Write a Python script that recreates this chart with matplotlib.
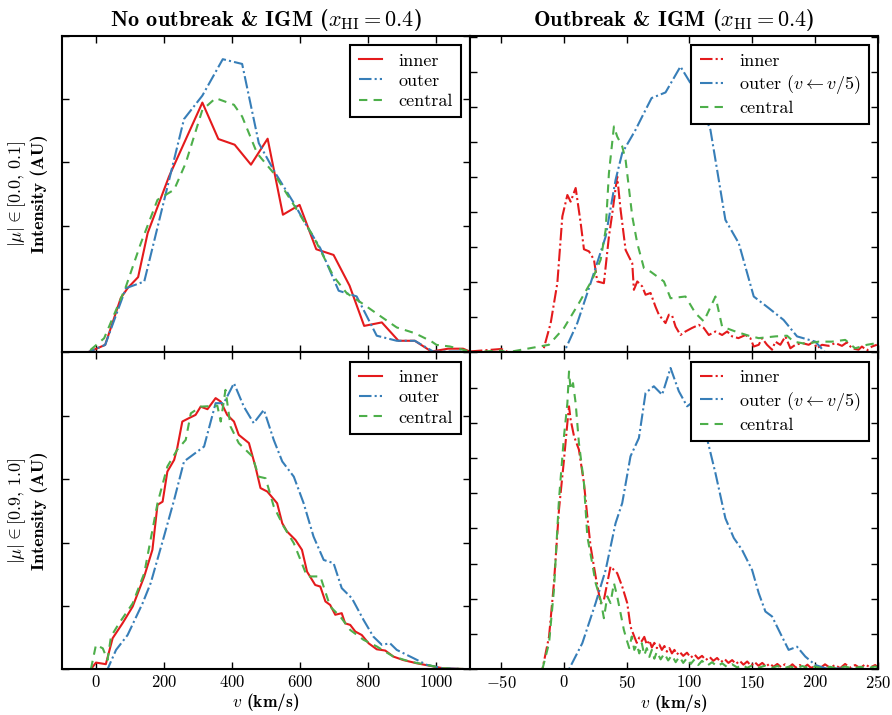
import matplotlib
matplotlib.use('Agg')
import matplotlib.pyplot as plt
from matplotlib.ticker import MultipleLocator

plt.rcParams['font.family'] = 'serif'
plt.rcParams['font.serif'] = ['cmr10']
plt.rcParams['mathtext.fontset'] = 'cm'
plt.rcParams['axes.formatter.use_mathtext'] = True
plt.rcParams['axes.unicode_minus'] = True

RED = '#e41a1c'
BLUE = '#377eb8'
GREEN = '#4daf4a'

# ---- top left: no outbreak, |mu| in [0.0, 0.1] ----
tl_inner_v = [-100, -25, 27, 73, 93, 124, 152, 215, 313, 360, 408, 456, 505, 550, 599, 648, 699,
              746, 789, 841, 890, 938, 987, 1036, 1080, 1100]
tl_inner_i = [0, 0, 0.024, 0.172, 0.203, 0.238, 0.377, 0.556, 0.789, 0.674, 0.656, 0.593, 0.675,
              0.435, 0.466, 0.326, 0.308, 0.211, 0.084, 0.095, 0.037, 0.037, 0.003, 0.012, 0.012, 0.003]
tl_outer_v = [-100, -25, 27, 88, 142, 259, 313, 373, 430, 479, 528, 582, 621, 660, 714, 767, 826,
              885, 938, 992, 1100]
tl_outer_i = [0, 0, 0.024, 0.203, 0.224, 0.737, 0.811, 0.926, 0.911, 0.661, 0.566, 0.472, 0.398,
              0.329, 0.195, 0.177, 0.053, 0.037, 0.037, 0.003, 0.003]
tl_central_v = [-100, -25, 24, 88, 132, 181, 230, 264, 313, 352, 406, 430, 474, 523, 582, 640, 699,
                738, 782, 831, 885, 938, 987, 1002, 1041, 1100]
tl_central_i = [0, 0, 0.045, 0.208, 0.345, 0.482, 0.514, 0.598, 0.766, 0.803, 0.782, 0.745, 0.629,
                0.566, 0.466, 0.366, 0.24, 0.187, 0.156, 0.119, 0.079, 0.061, 0.035, 0.024, 0.019, 0.003]

# ---- bottom left: no outbreak, |mu| in [0.9, 1.0] ----
bl_inner_v = [-100, -15, 0, 29, 49, 78, 108, 142, 166, 181, 196, 210, 230, 239, 254, 274, 293, 308,
              328, 352, 367, 386, 406, 420, 450, 469, 484, 504, 533, 548, 562, 587, 606, 621, 645,
              660, 675, 689, 704, 723, 733, 748, 763, 782, 802, 826, 851, 875, 904, 943, 982, 1021, 1100]
bl_inner_i = [0, 0, 0.021, 0.016, 0.098, 0.145, 0.198, 0.293, 0.377, 0.519, 0.529, 0.624, 0.661,
              0.698, 0.782, 0.793, 0.803, 0.829, 0.821, 0.856, 0.845, 0.803, 0.782, 0.74, 0.714, 0.64,
              0.572, 0.561, 0.524, 0.461, 0.435, 0.408, 0.377, 0.308, 0.266, 0.261, 0.214, 0.203,
              0.172, 0.177, 0.145, 0.14, 0.119, 0.108, 0.082, 0.063, 0.059, 0.04, 0.029, 0.019,
              0.011, 0.003, 0]
bl_outer_v = [-100, -15, 34, 59, 93, 137, 161, 200, 230, 259, 318, 352, 376, 406, 435, 464, 494, 523,
              548, 582, 611, 640, 670, 699, 723, 753, 787, 816, 841, 865, 885, 934, 973, 1021, 1100]
bl_outer_i = [0, 0, 0, 0.061, 0.108, 0.208, 0.272, 0.419, 0.535, 0.656, 0.703, 0.84, 0.84, 0.903,
              0.829, 0.777, 0.819, 0.724, 0.656, 0.608, 0.524, 0.419, 0.345, 0.335, 0.256, 0.224,
              0.156, 0.103, 0.077, 0.082, 0.061, 0.035, 0.014, 0.003, 0]
bl_central_v = [-100, -15, 0, 20, 34, 44, 68, 108, 142, 181, 210, 239, 264, 279, 308, 357, 367, 381,
                396, 420, 460, 479, 499, 523, 552, 582, 621, 660, 689, 719, 748, 787, 826, 875, 924,
                973, 1021, 1100]
bl_central_i = [0, 0, 0.077, 0.066, 0.029, 0.103, 0.145, 0.208, 0.303, 0.524, 0.64, 0.693, 0.724,
                0.808, 0.829, 0.832, 0.782, 0.882, 0.766, 0.714, 0.672, 0.608, 0.603, 0.514, 0.451,
                0.398, 0.293, 0.293, 0.198, 0.166, 0.124, 0.093, 0.072, 0.04, 0.024, 0.014, 0.003, 0]

# ---- top right: outbreak, |mu| in [0.0, 0.1] ----
tr_inner_v = [-75, -50, -44, -17, -10.6, -5.3, -1.3, 2.7, 5.3, 9.3, 13.3, 15.9, 19.9, 23.9, 26.5,
              31.8, 35.8, 38.5, 42.4, 45.1, 49.1, 51.7, 54.4, 55.7, 58.4, 62.3, 65, 69, 72.9, 75.6,
              80.9, 83.6, 86.2, 88.9, 92.8, 96.8, 102, 107.4, 111.4, 115.4, 120.7, 126, 130, 134,
              139, 144.6, 148.5, 151.2, 155.2, 157.8, 161.8, 165.8, 168.4, 172.4, 176.4, 180.4,
              184.4, 189.7, 195, 199, 201.6, 205.6, 210.9, 216.2, 221.5, 225.5, 229.4, 234.7, 237.4,
              241.4, 245.4, 249.3]
tr_inner_i = [0.03, 0.1, 0, 0, 0.84, 1.98, 3.89, 4.5, 4.31, 4.7, 3.7, 2.95, 2.89, 2.65, 2.03, 1.98,
              3.31, 3.98, 5.03, 4.08, 2.93, 2.74, 2.55, 1.79, 2.03, 1.89, 1.65, 1.7, 1.31, 1.08, 0.84,
              1.08, 1.05, 0.74, 0.5, 0.6, 0.7, 0.79, 0.7, 0.5, 0.6, 0.5, 0.6, 0.46, 0.41, 0.5, 0.41,
              0.17, 0.22, 0.41, 0.22, 0.08, 0.31, 0.22, 0.46, 0.12, 0.22, 0.27, 0.22, 0.31, 0.12,
              0.22, 0.19, 0.27, 0.19, 0.29, 0.12, 0.08, 0.17, 0.06, 0.17, 0.22]
tr_outer_v = [-75, 0, 10.6, 21.2, 33.2, 41.1, 46.4, 57, 62.3, 69.8, 80.9, 92.8, 104.8, 116.7, 122,
              128.6, 139.3, 151.2, 163.1, 175, 185.7, 200.3, 208.2, 250]
tr_outer_i = [0, 0, 0.84, 1.98, 3.31, 4.93, 5.7, 6.36, 6.74, 7.27, 7.43, 8.17, 7.46, 6.36, 5.22,
              3.79, 3.12, 1.6, 1.27, 0.93, 0.46, 0.31, 0, 0]
tr_central_v = [-75, -50, -46, -12, 0, 11.9, 22.5, 29.2, 33.2, 35.8, 39.8, 42.4, 46.4, 49.1, 54.4,
                58.4, 63.7, 69, 79.6, 84.9, 96.8, 104.8, 111.4, 120.7, 126, 136.6, 147.2, 155.2,
                168.4, 177.7, 183, 192.3, 202.9, 213.5, 224.1, 232, 241.4, 249.3]
tr_central_i = [0, 0.06, 0, 0.22, 0.7, 1.41, 2.08, 2.65, 3.5, 5.12, 6.46, 6.17, 5.89, 5.5, 3.89,
                3.12, 2.41, 2.31, 2.03, 1.55, 1.6, 1.12, 0.89, 1.6, 0.74, 0.6, 0.48, 0.41, 0.46, 0.48,
                0.31, 0.25, 0.31, 0.31, 0.36, 0.12, 0.22, 0.27]

# ---- bottom right: outbreak, |mu| in [0.9, 1.0] ----
br_inner_v = [-75, -17.2, -11.9, -8, -4, 0, 2.7, 4, 5.3, 8, 11.9, 15.9, 18.6, 21.2, 25.2, 29.2, 31.8,
              34.5, 37.1, 39.8, 42.4, 46.4, 50.4, 53, 56, 58, 60, 62, 64, 66, 68, 70, 72, 74, 76, 78,
              80, 82, 84, 86, 88, 90, 92, 95, 98, 101, 104, 107, 110, 113, 116, 119, 122, 125, 128,
              131, 134, 137, 140, 143, 146, 149, 152, 155, 158, 161, 164, 167, 170, 173, 176, 179,
              182, 185, 188, 191, 194, 197, 200, 204, 208, 212, 216, 220, 224, 228, 232, 236, 240,
              244, 248, 250]
br_inner_i = [0, 0, 0.93, 2.45, 4.53, 5.95, 7.0, 7.47, 7.09, 6.62, 6.24, 5.29, 4.34, 3.49, 2.64,
              1.88, 1.97, 2.45, 2.92, 2.82, 2.73, 2.35, 1.88, 1.21, 0.93, 0.75, 0.9, 0.8, 0.92, 0.7,
              0.82, 0.62, 0.75, 0.6, 0.7, 0.55, 0.66, 0.5, 0.6, 0.45, 0.55, 0.42, 0.5, 0.38, 0.47,
              0.33, 0.42, 0.3, 0.38, 0.26, 0.35, 0.24, 0.32, 0.2, 0.29, 0.18, 0.26, 0.15, 0.24, 0.13,
              0.22, 0.1, 0.2, 0.1, 0.18, 0.08, 0.16, 0.07, 0.15, 0.06, 0.14, 0.05, 0.14, 0.04, 0.12,
              0.04, 0.13, 0.03, 0.12, 0.03, 0.14, 0.04, 0.12, 0.03, 0.15, 0.04, 0.12, 0.03, 0.14,
              0.05, 0.12, 0.06]
br_outer_v = [-75, 4, 14.6, 25.2, 33.2, 41.1, 46.4, 53, 59.7, 65, 71.6, 78.2, 84.9, 91.5, 98.1, 103.4,
              110, 120.7, 128.6, 135.3, 141.9, 149.9, 155.2, 160.5, 165.8, 172.4, 179, 185.7, 192.3,
              200.3, 208.2, 250]
br_outer_i = [0, 0, 0.74, 1.88, 2.82, 4.15, 4.72, 6.05, 6.57, 7.85, 8.04, 7.8, 8.56, 7.9, 7.47, 7.61,
              7.14, 5.57, 4.29, 3.73, 3.39, 2.82, 2.16, 1.64, 1.5, 1.02, 0.55, 0.64, 0.36, 0.12, 0.03, 0]
br_central_v = [-75, -17.2, -11.9, -8, -4, 0, 2.7, 4, 5.3, 7.2, 9.3, 11.9, 15.9, 18.6, 22.5, 25.2,
                29.2, 31.8, 34.5, 37.1, 39.8, 42.4, 45.1, 47.7, 50, 52, 54, 56, 58, 60, 62, 64, 66,
                68, 70, 72, 74, 77, 80, 83, 86, 89, 92, 95, 98, 101, 104, 107, 110, 114, 118, 122,
                126, 130, 134, 138, 142, 146, 150, 155, 160, 165, 170, 175, 180, 185, 190, 195, 200,
                206, 212, 218, 224, 230, 236, 242, 248, 250]
br_central_i = [0, 0, 0.74, 2.26, 4.82, 6.62, 7.56, 8.46, 7.94, 8.13, 7.56, 6.43, 5.29, 3.77, 3.01,
                2.45, 1.97, 1.45, 2.07, 1.88, 2.45, 2.07, 1.59, 1.12, 0.83, 0.6, 0.93, 0.55, 0.7, 0.45,
                0.74, 0.4, 0.6, 0.35, 0.55, 0.3, 0.5, 0.28, 0.45, 0.25, 0.4, 0.2, 0.36, 0.18, 0.32,
                0.15, 0.28, 0.12, 0.24, 0.1, 0.2, 0.08, 0.17, 0.06, 0.14, 0.05, 0.12, 0.04, 0.11,
                0.04, 0.1, 0.03, 0.09, 0.03, 0.08, 0.03, 0.09, 0.03, 0.08, 0.02, 0.07, 0.02, 0.08,
                0.02, 0.07, 0.03, 0.08, 0.05]

titles = [r'No outbreak & IGM ($x_{\rm HI}=0.4$)', r'Outbreak & IGM ($x_{\rm HI}=0.4$)']
ylabels = [r'$|\mu|\in[0.0,\,0.1]$' + '\nIntensity (AU)', r'$|\mu|\in[0.9,\,1.0]$' + '\nIntensity (AU)']
xlabel = r'$v$ (km/s)'
left_labels = ['inner', 'outer', 'central']
right_labels = ['inner', r'outer ($v\leftarrow v/5$)', 'central']

DASHDOT = (6, 1.5, 1, 1.5)
DASH = (4, 3)

fig, axes = plt.subplots(2, 2, figsize=(8.92, 7.15), dpi=100, sharex='col')
fig.subplots_adjust(left=0.0695, right=0.984, top=0.95, bottom=0.064, wspace=0, hspace=0)

panels = [
    (axes[0, 0], tl_inner_v, tl_inner_i, tl_outer_v, tl_outer_i, tl_central_v, tl_central_i, left_labels, False),
    (axes[1, 0], bl_inner_v, bl_inner_i, bl_outer_v, bl_outer_i, bl_central_v, bl_central_i, left_labels, False),
    (axes[0, 1], tr_inner_v, tr_inner_i, tr_outer_v, tr_outer_i, tr_central_v, tr_central_i, right_labels, True),
    (axes[1, 1], br_inner_v, br_inner_i, br_outer_v, br_outer_i, br_central_v, br_central_i, right_labels, True),
]

for ax, iv, ii, ov, oi, cv, ci, labs, right in panels:
    if right:
        ax.plot(iv, ii, color=RED, lw=1.5, dashes=DASHDOT, label=labs[0])
    else:
        ax.plot(iv, ii, color=RED, lw=1.5, label=labs[0])
    ax.plot(ov, oi, color=BLUE, lw=1.5, dashes=DASHDOT, label=labs[1])
    ax.plot(cv, ci, color=GREEN, lw=1.5, dashes=DASH, label=labs[2])
    leg = ax.legend(loc='upper right', fancybox=False, framealpha=1, edgecolor='black',
                    handlelength=1.3, handletextpad=0.9, borderpad=0.45, labelspacing=0.25,
                    borderaxespad=0.5, prop={'family': 'cmr10', 'size': 13})
    leg.get_frame().set_linewidth(1.5)
    ax.tick_params(direction='in', top=True, right=True, labelleft=False,
                   length=5, width=1, labelsize=12)
    for s in ax.spines.values():
        s.set_linewidth(1.5)

for ax in axes[:, 0]:
    ax.set_xlim(-100, 1100)
    ax.set_ylim(0, 1)
    ax.yaxis.set_major_locator(MultipleLocator(0.2))
    ax.xaxis.set_major_locator(MultipleLocator(200))
axes[0, 1].set_ylim(0, 9.05)
axes[1, 1].set_ylim(0, 9.0)
for ax in axes[:, 1]:
    ax.set_xlim(-75, 250)
    ax.yaxis.set_major_locator(MultipleLocator(1))
    ax.xaxis.set_major_locator(MultipleLocator(50))

for j in range(2):
    axes[0, j].set_title(titles[j], fontfamily='cmb10', fontsize=16, pad=7)
    axes[1, j].set_xlabel(xlabel, fontfamily='cmb10', fontsize=12.5, labelpad=1)
    axes[j, 0].set_ylabel(ylabels[j], fontfamily='cmb10', fontsize=13, labelpad=10,
                          multialignment='center')

fig.savefig('out.png', dpi=100)
